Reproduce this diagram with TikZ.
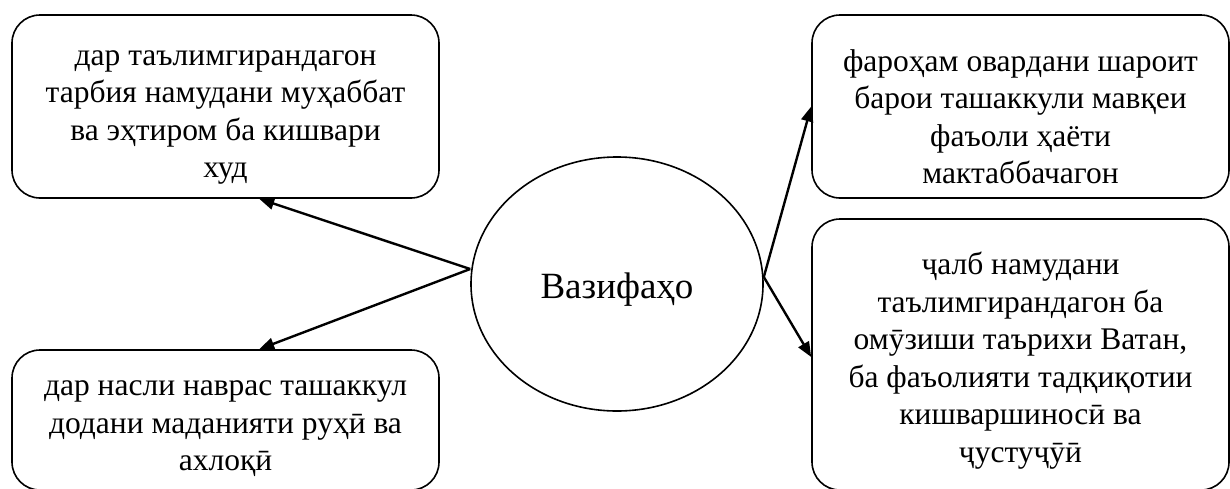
\documentclass[tikz,border=0pt]{standalone}
\usepackage{fontspec}
\setmainfont{Liberation Serif}
\usetikzlibrary{shapes.geometric,arrows.meta}
\begin{document}
\begin{tikzpicture}[x=1pt,y=-1pt,
  box/.style={draw,line width=1.6pt,rounded corners=28pt,inner sep=0pt},
  boxtext/.style={inner sep=0pt,align=center,font=\fontsize{31.5}{37.5}\selectfont},
  oval/.style={draw,ellipse,line width=1.6pt,inner sep=0pt,
    minimum width=292pt,minimum height=254pt},
  ovaltext/.style={inner sep=0pt,font=\fontsize{37}{40}\selectfont},
  conn/.style={line width=2.4pt,-{Triangle[length=15pt,width=12pt]}}]
\useasboundingbox (0,0) rectangle (1230,488);
\node[box,minimum width=427pt,minimum height=183pt] (tl) at (225.5,106.5) {};
\node[boxtext] (tlt) at ([yshift=-11pt]tl.center)
  {дар таълимгирандагон\\тарбия намудани муҳаббат\\ва эҳтиром ба кишвари\\худ};
\node[box,minimum width=427pt,minimum height=140pt] (bl) at (225.5,420) {};
\node[boxtext] (blt) at ([yshift=-9pt]bl.center)
  {дар насли наврас ташаккул\\додани маданияти руҳӣ ва\\ахлоқӣ};
\node[box,minimum width=417pt,minimum height=183pt] (tr) at (1020.5,106.5) {};
\node[boxtext] (trt) at ([yshift=-10pt]tr.center)
  {фароҳам овардани шароит\\барои ташаккули мавқеи\\фаъоли ҳаёти\\мактаббачагон};
\node[box,minimum width=417pt,minimum height=271pt] (br) at (1020.5,354.5) {};
\node[boxtext] (brt) at ([yshift=-6pt]br.center)
  {ҷалб намудани\\таълимгирандагон ба\\омӯзиши таърихи Ватан,\\ба фаъолияти тадқиқотии\\кишваршиносӣ ва\\ҷустуҷӯӣ};
\node[oval] (e) at (617,284) {};
\node[ovaltext] (et) at ([yshift=-6pt]e.center) {Вазифаҳо};
\coordinate (eL) at ([yshift=15pt]e.west);
\coordinate (eR) at ([yshift=7pt]e.east);
\draw[conn] (eL) -- ([xshift=248pt]tl.south west);
\draw[conn] (eL) -- ([xshift=248pt]bl.north west);
\draw[conn] (eR) -- (tr.west);
\draw[conn] (eR) -- ([yshift=-2.5pt]br.west);
\end{tikzpicture}
\end{document}
